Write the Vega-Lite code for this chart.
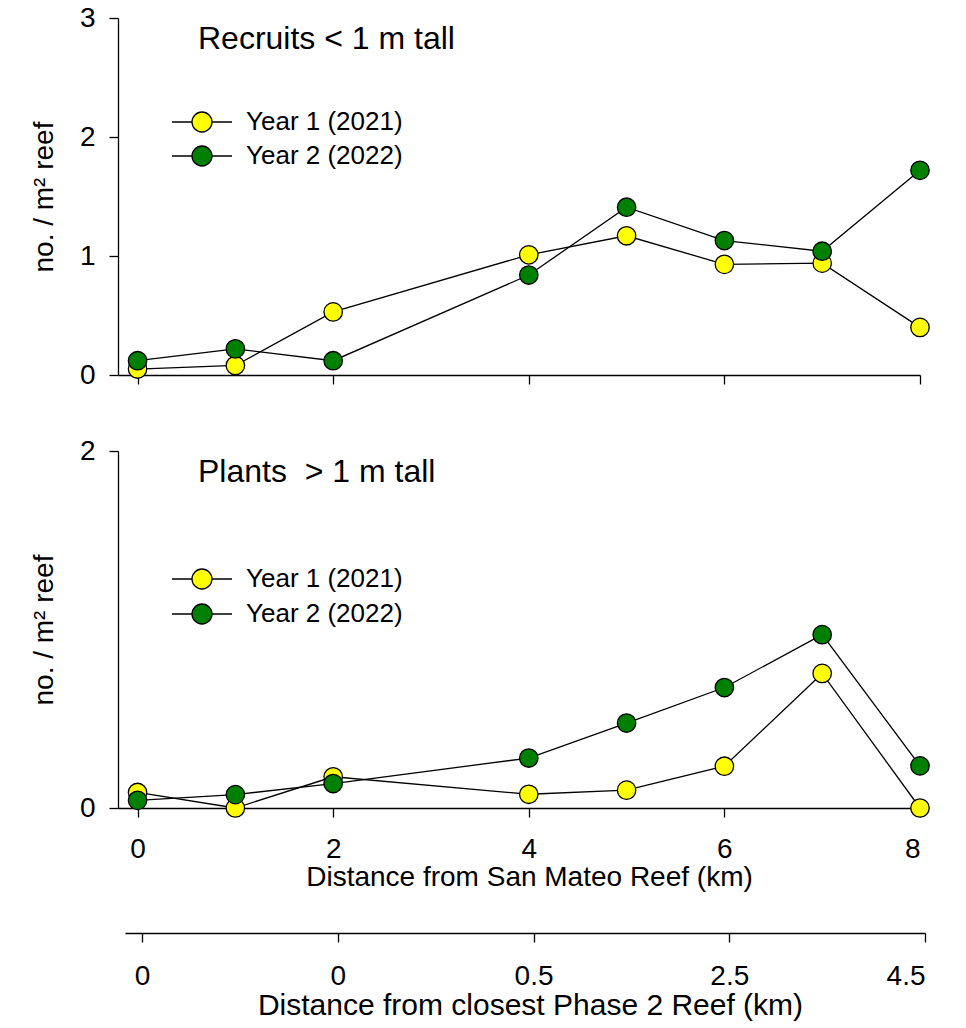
{
  "$schema": "https://vega.github.io/schema/vega-lite/v6.json",
  "background": "white",
  "padding": {"left": 30, "top": 4, "right": 10, "bottom": 5},
  "config": {
    "view": {"stroke": null},
    "font": "Liberation Sans",
    "axis": {
      "grid": false,
      "domainColor": "black",
      "domainWidth": 1.3,
      "tickColor": "black",
      "tickWidth": 1.3,
      "tickSize": 9,
      "labelColor": "black",
      "titleColor": "black",
      "labelFont": "Liberation Sans",
      "titleFont": "Liberation Sans",
      "labelFontSize": 28,
      "titleFontSize": 28,
      "titleFontWeight": "normal"
    },
    "legend": {"labelFont": "Liberation Sans", "labelColor": "black"},
    "title": {"font": "Liberation Sans", "color": "black", "fontWeight": "normal"}
  },
  "datasets": {
    "density": [
      {"panel": "Recruits", "year": "Year 1 (2021)", "km": 0, "density": 0.05},
      {"panel": "Recruits", "year": "Year 1 (2021)", "km": 1, "density": 0.08},
      {"panel": "Recruits", "year": "Year 1 (2021)", "km": 2, "density": 0.53},
      {"panel": "Recruits", "year": "Year 1 (2021)", "km": 4, "density": 1.01},
      {"panel": "Recruits", "year": "Year 1 (2021)", "km": 5, "density": 1.17},
      {"panel": "Recruits", "year": "Year 1 (2021)", "km": 6, "density": 0.93},
      {"panel": "Recruits", "year": "Year 1 (2021)", "km": 7, "density": 0.94},
      {"panel": "Recruits", "year": "Year 1 (2021)", "km": 8, "density": 0.40},
      {"panel": "Recruits", "year": "Year 2 (2022)", "km": 0, "density": 0.12},
      {"panel": "Recruits", "year": "Year 2 (2022)", "km": 1, "density": 0.22},
      {"panel": "Recruits", "year": "Year 2 (2022)", "km": 2, "density": 0.12},
      {"panel": "Recruits", "year": "Year 2 (2022)", "km": 4, "density": 0.84},
      {"panel": "Recruits", "year": "Year 2 (2022)", "km": 5, "density": 1.41},
      {"panel": "Recruits", "year": "Year 2 (2022)", "km": 6, "density": 1.13},
      {"panel": "Recruits", "year": "Year 2 (2022)", "km": 7, "density": 1.04},
      {"panel": "Recruits", "year": "Year 2 (2022)", "km": 8, "density": 1.72},
      {"panel": "Plants", "year": "Year 1 (2021)", "km": 0, "density": 0.087},
      {"panel": "Plants", "year": "Year 1 (2021)", "km": 1, "density": 0.0},
      {"panel": "Plants", "year": "Year 1 (2021)", "km": 2, "density": 0.175},
      {"panel": "Plants", "year": "Year 1 (2021)", "km": 4, "density": 0.077},
      {"panel": "Plants", "year": "Year 1 (2021)", "km": 5, "density": 0.10},
      {"panel": "Plants", "year": "Year 1 (2021)", "km": 6, "density": 0.234},
      {"panel": "Plants", "year": "Year 1 (2021)", "km": 7, "density": 0.754},
      {"panel": "Plants", "year": "Year 1 (2021)", "km": 8, "density": 0.0},
      {"panel": "Plants", "year": "Year 2 (2022)", "km": 0, "density": 0.043},
      {"panel": "Plants", "year": "Year 2 (2022)", "km": 1, "density": 0.075},
      {"panel": "Plants", "year": "Year 2 (2022)", "km": 2, "density": 0.137},
      {"panel": "Plants", "year": "Year 2 (2022)", "km": 4, "density": 0.28},
      {"panel": "Plants", "year": "Year 2 (2022)", "km": 5, "density": 0.476},
      {"panel": "Plants", "year": "Year 2 (2022)", "km": 6, "density": 0.675},
      {"panel": "Plants", "year": "Year 2 (2022)", "km": 7, "density": 0.971},
      {"panel": "Plants", "year": "Year 2 (2022)", "km": 8, "density": 0.236}
    ]
  },
  "spacing": 76,
  "bounds": "flush",
  "resolve": {"scale": {"color": "independent"}, "legend": {"color": "independent"}},
  "vconcat": [
    {
      "width": 802,
      "height": 357,
      "data": {"name": "density"},
      "transform": [{"filter": "datum.panel == 'Recruits'"}],
      "title": {"text": "Recruits < 1 m tall", "anchor": "start", "frame": "group", "orient": "top", "offset": -77, "dx": 80, "baseline": "alphabetic", "fontSize": 32},
      "encoding": {
        "x": {"field": "km", "type": "quantitative", "scale": {"domain": [-0.2, 8], "nice": false, "zero": false}, "axis": {"values": [0, 2, 4, 6, 8], "labels": false, "title": null}},
        "y": {"field": "density", "type": "quantitative", "scale": {"domain": [0, 3], "nice": false}, "axis": {"values": [0, 1, 2, 3], "format": "d", "title": "no. / m² reef", "labelPadding": 14, "titlePadding": 21}}
      },
      "layer": [
        {"mark": {"type": "line", "color": "black", "strokeWidth": 1.3}, "encoding": {"detail": {"field": "year"}}},
        {
          "mark": {"type": "point", "filled": true, "opacity": 1, "size": 340, "stroke": "black", "strokeWidth": 1.3},
          "encoding": {
            "color": {
              "field": "year", "type": "nominal",
              "scale": {"domain": ["Year 1 (2021)", "Year 2 (2022)"], "range": ["#ffff00", "#008000"]},
              "legend": {
                "title": null, "orient": "none", "legendX": 71, "legendY": 91, "padding": 0,
                "symbolType": "M -3 0 L -1 0 M 1 0 L 3 0 M -1 0 A 1 1 0 1 1 1 0 A 1 1 0 1 1 -1 0 Z",
                "symbolSize": 400, "symbolStrokeColor": "black", "symbolStrokeWidth": 1.3, "symbolOpacity": 1,
                "labelFontSize": 26, "labelOffset": 31, "rowPadding": 8,
                "encode": {"symbols": {"update": {"size": {"value": 400}, "stroke": {"value": "black"}, "strokeWidth": {"value": 1.3}, "opacity": {"value": 1}, "shape": {"value": "M -3 0 L -1 0 M 1 0 L 3 0 M -1 0 A 1 1 0 1 1 1 0 A 1 1 0 1 1 -1 0 Z"}}}}
              }
            }
          }
        }
      ]
    },
    {
      "width": 802,
      "height": 357,
      "data": {"name": "density"},
      "transform": [{"filter": "datum.panel == 'Plants'"}],
      "title": {"text": "Plants\u00a0 > 1 m tall", "anchor": "start", "frame": "group", "orient": "top", "offset": -77, "dx": 80, "baseline": "alphabetic", "fontSize": 32},
      "resolve": {"scale": {"x": "independent"}},
      "layer": [
        {
          "encoding": {
            "x": {"field": "km", "type": "quantitative", "scale": {"domain": [-0.2, 8], "nice": false, "zero": false}, "axis": {"orient": "bottom", "values": [0, 2, 4, 6, 8], "labelPadding": 18, "title": "Distance from San Mateo Reef (km)", "titleFontSize": 28, "titlePadding": 0, "titleX": 411}},
            "y": {"field": "density", "type": "quantitative", "scale": {"domain": [0, 2], "nice": false}, "axis": {"values": [0, 1, 2], "format": "d", "title": "no. / m² reef", "labelPadding": 14, "titlePadding": 21}}
          },
          "layer": [
            {"mark": {"type": "line", "color": "black", "strokeWidth": 1.3}, "encoding": {"detail": {"field": "year"}}},
            {
              "mark": {"type": "point", "filled": true, "opacity": 1, "size": 340, "stroke": "black", "strokeWidth": 1.3},
              "encoding": {
                "color": {
                  "field": "year", "type": "nominal",
                  "scale": {"domain": ["Year 1 (2021)", "Year 2 (2022)"], "range": ["#ffff00", "#008000"]},
                  "legend": {
                    "title": null, "orient": "none", "legendX": 71, "legendY": 115, "padding": 0,
                    "symbolType": "M -3 0 L -1 0 M 1 0 L 3 0 M -1 0 A 1 1 0 1 1 1 0 A 1 1 0 1 1 -1 0 Z",
                    "symbolSize": 400, "symbolStrokeColor": "black", "symbolStrokeWidth": 1.3, "symbolOpacity": 1,
                    "labelFontSize": 26, "labelOffset": 31, "rowPadding": 9,
                    "encode": {"symbols": {"update": {"size": {"value": 400}, "stroke": {"value": "black"}, "strokeWidth": {"value": 1.3}, "opacity": {"value": 1}, "shape": {"value": "M -3 0 L -1 0 M 1 0 L 3 0 M -1 0 A 1 1 0 1 1 1 0 A 1 1 0 1 1 -1 0 Z"}}}}
                  }
                }
              }
            }
          ]
        },
        {
          "mark": {"type": "point", "opacity": 0},
          "encoding": {
            "x": {
              "field": "km", "type": "quantitative",
              "scale": {"domain": [-0.175, 8], "range": [7, 807], "nice": false, "zero": false},
              "axis": {
                "orient": "bottom", "offset": 125, "values": [0, 2, 4, 6, 8],
                "labelExpr": "datum.value == 4 ? '0.5' : datum.value == 6 ? '2.5' : datum.value == 8 ? '4.5' : '0'",
                "labelPadding": 20, "title": "Distance from closest Phase 2 Reef (km)", "titleFontSize": 30, "titlePadding": 0, "titleX": 412
              }
            }
          }
        }
      ]
    }
  ]
}
